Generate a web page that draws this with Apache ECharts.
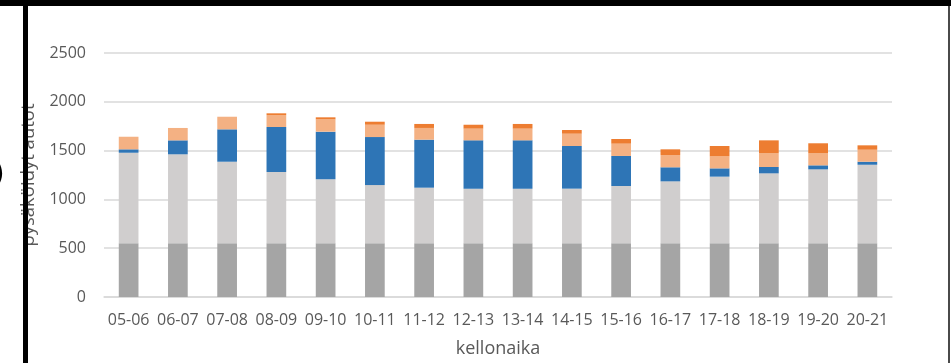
<!DOCTYPE html>
<html>
<head>
<meta charset="utf-8">
<script src="https://cdn.jsdelivr.net/npm/echarts@6/dist/echarts.min.js"></script>
<style>
  html, body { margin: 0; padding: 0; background: #fff; }
  #chart { width: 951px; height: 363px; }
</style>
</head>
<body>
<div id="chart"></div>
<script>
// Hourly time slots on the category axis
const categories = ['05-06', '06-07', '07-08', '08-09', '09-10', '10-11', '11-12', '12-13',
                    '13-14', '14-15', '15-16', '16-17', '17-18', '18-19', '19-20', '20-21'];

// Stacked parked-car counts per slot, bottom segment first
const segmentBase   = [550, 550, 550, 550, 550, 550, 550, 550, 550, 550, 550, 550, 550, 550, 550, 550];
const segmentLight  = [928, 912, 836, 731, 656, 597, 570, 560, 560, 560, 587, 635, 683, 717, 758, 805];
const segmentBlue   = [35, 143, 332, 461, 488, 492, 492, 495, 495, 437, 308, 144, 85, 65, 41, 31];
const segmentPeach  = [129, 127, 129, 123, 126, 126, 120, 120, 120, 126, 126, 126, 123, 140, 123, 123];
const segmentOrange = [0, 0, 0, 17, 21, 31, 41, 40, 48, 38, 48, 58, 106, 133, 103, 45];

// Value axis ticks
const yTicks = [0, 500, 1000, 1500, 2000, 2500];

const FONT = '"Open Sans", "DejaVu Sans", sans-serif';
const TEXT_COLOR = '#595959';
const GRID_COLOR = '#d9d9d9';

const stackSeries = [
  { name: 'A', data: segmentBase,   color: '#a5a5a5' },
  { name: 'B', data: segmentLight,  color: '#d0cece' },
  { name: 'C', data: segmentBlue,   color: '#2e75b6' },
  { name: 'D', data: segmentPeach,  color: '#f4b183' },
  { name: 'E', data: segmentOrange, color: '#ed7d31' }
].map(s => ({
  name: s.name,
  type: 'bar',
  stack: 'total',
  barWidth: '40%',
  data: s.data,
  itemStyle: { color: s.color },
  emphasis: { disabled: true }
}));

const chart = echarts.init(document.getElementById('chart'), null, { renderer: 'canvas' });

chart.setOption({
  animation: false,
  backgroundColor: '#ffffff',
  grid: { left: 104, right: 59, top: 53, bottom: 66, containLabel: false },
  xAxis: {
    type: 'category',
    data: categories,
    name: 'kellonaika',
    nameLocation: 'middle',
    nameGap: 43,
    nameTextStyle: { fontFamily: FONT, fontSize: 18, color: TEXT_COLOR },
    axisLine: { show: true, lineStyle: { color: GRID_COLOR, width: 1.5 } },
    axisTick: { show: false },
    axisLabel: { fontFamily: FONT, fontSize: 16, color: TEXT_COLOR, margin: 15, interval: 0 }
  },
  yAxis: {
    type: 'value',
    min: yTicks[0],
    max: yTicks[yTicks.length - 1],
    interval: yTicks[1] - yTicks[0],
    name: 'pysäköidyt autot',
    nameLocation: 'middle',
    nameRotate: 90,
    nameGap: 58,
    nameTextStyle: { fontFamily: FONT, fontSize: 18.5, color: TEXT_COLOR },
    axisLine: { show: false },
    axisTick: { show: false },
    splitLine: { lineStyle: { color: GRID_COLOR, width: 1.5 } },
    axisLabel: {
      fontFamily: FONT, fontSize: 16, color: TEXT_COLOR, margin: 18,
      formatter: v => String(v)
    }
  },
  series: stackSeries,
  graphic: [
    // heavy frame along the top and left edges
    { type: 'rect', z: 100, shape: { x: 0, y: 0, width: 951, height: 6 }, style: { fill: '#000' } },
    { type: 'rect', z: 100, shape: { x: 23, y: 0, width: 5, height: 363 }, style: { fill: '#000' } },
    // thin edge on the right
    { type: 'rect', z: 100, shape: { x: 948, y: 6, width: 2, height: 357 }, style: { fill: '#4a4a4a' } },
    // stray bracket at the far left
    { type: 'text', z: 100, left: -9, top: 160,
      style: { text: ')', font: 'bold 30px "DejaVu Sans", sans-serif', fill: '#000' } }
  ]
});
</script>
</body>
</html>
